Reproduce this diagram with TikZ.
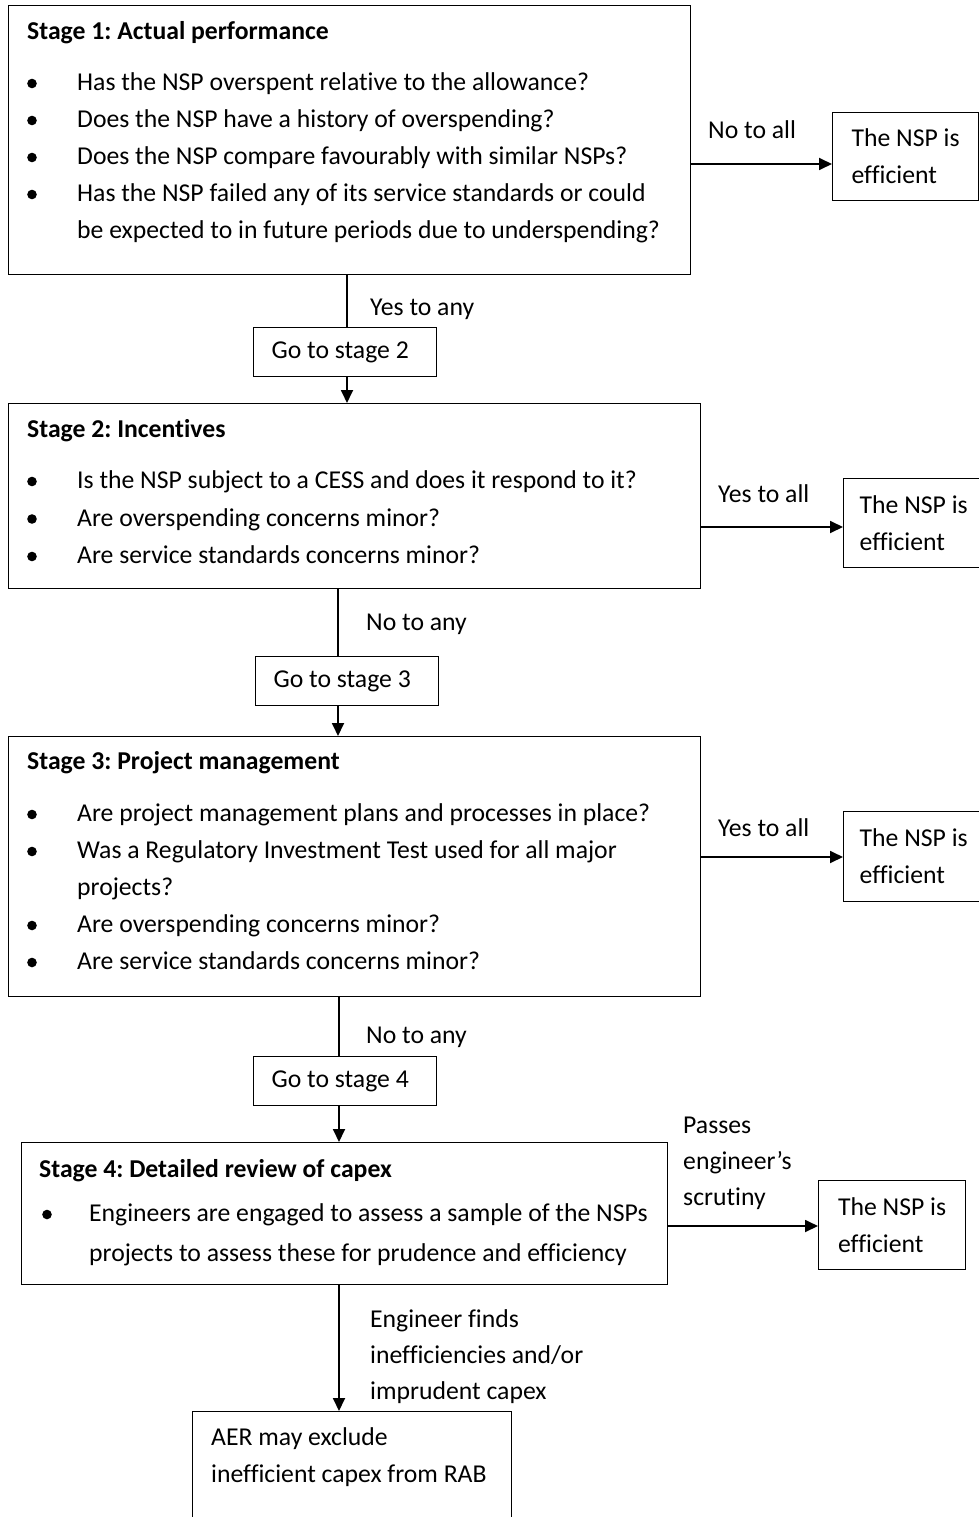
\documentclass[tikz,border=0pt]{standalone}
\usepackage{fontspec}
\setmainfont{Carlito}[Ligatures={NoCommon,NoContextual}]
\usetikzlibrary{arrows.meta}
\frenchspacing
\tikzset{box/.style={draw, line width=1.3pt, inner sep=0pt, anchor=north west}}
\tikzset{txt/.style={anchor=base west, inner sep=0pt}}
\tikzset{gobox/.style={box, minimum width=183pt, minimum height=49pt,
    text width=147pt, inner xsep=18pt, align=flush left}}
\tikzset{endbox/.style={box, align=flush left, inner xsep=16pt}}
\tikzset{line/.style={line width=1.8pt}}
\tikzset{arr/.style={line width=1.8pt, -{Triangle[length=13pt,width=12pt]}}}
\newcommand{\bul}[2]{\fill (#1,{#2}) circle (4.8pt);}

\begin{document}
\begin{tikzpicture}[x=1pt, y=-1pt, font=\fontsize{25.7}{37}\selectfont\frenchspacing]
                \useasboundingbox (0,0) rectangle (979,1517);
                \clip (0,0) rectangle (979,1517);

                % Stage 1
                \node[box, minimum width=682pt, minimum height=269pt] (s1) at (8,5) {};
                \node[txt] (s1t) at (27,40) {\textbf{Stage 1: Actual performance}};
                \foreach \t [count=\i] in {{Has the NSP overspent relative to the allowance?},
                    {Does the NSP have a history of overspending?},
                    {Does the NSP compare favourably with similar NSPs?},
                    {Has the NSP failed any of its service standards or could},
                    {be expected to in future periods due to underspending?}}
                    {\node[txt] (s1l\i) at (77,{90.5+37*(\i-1)}) {\t};}
                \foreach \i in {1,...,4} {\bul{32}{83.5+37*(\i-1)}}

                % Stage 2
                \node[box, minimum width=692pt, minimum height=185pt] (s2) at (8,403) {};
                \node[txt] (s2t) at (27,437.5) {\textbf{Stage 2: Incentives}};
                \foreach \t [count=\i] in {{Is the NSP subject to a CESS and does it respond to it?},
                    {Are overspending concerns minor?},
                    {Are service standards concerns minor?}}
                    {\node[txt] (s2l\i) at (77,{488.5+37.5*(\i-1)}) {\t};}
                \foreach \i in {1,...,3} {\bul{32}{481.5+37.5*(\i-1)}}

                % Stage 3
                \node[box, minimum width=692pt, minimum height=260pt] (s3) at (8,736) {};
                \node[txt] (s3t) at (27,769.5) {\textbf{Stage 3: Project management}};
                \foreach \t [count=\i] in {{Are project management plans and processes in place?},
                    {Was a Regulatory Investment Test used for all major},
                    {projects?},
                    {Are overspending concerns minor?},
                    {Are service standards concerns minor?}}
                    {\node[txt] (s3l\i) at (77,{821.5+37*(\i-1)}) {\t};}
                \foreach \i in {1,2,4,5} {\bul{32}{814.5+37*(\i-1)}}

                % Stage 4
                \node[box, minimum width=646pt, minimum height=142pt] (s4) at (21,1142) {};
                \node[txt] (s4t) at (39,1177.5) {\textbf{Stage 4: Detailed review of capex}};
                \node[txt] (s4l1) at (89,1221.5) {Engineers are engaged to assess a sample of the NSPs};
                \node[txt] (s4l2) at (89,1261.5) {projects to assess these for prudence and efficiency};
                \bul{47}{1214.5}

                % Go to boxes
                \node[gobox] (go2) at (253,327) {Go to stage 2};
                \node[gobox] (go3) at (255,656) {Go to stage 3};
                \node[gobox] (go4) at (253,1056) {Go to stage 4};

                % Efficient boxes
                \node[endbox, minimum width=146pt, minimum height=88pt] (e1) at (832,112) {The NSP is\\efficient};
                \node[endbox, minimum width=135pt, minimum height=89pt] (e2) at (843,478) {The NSP is\\efficient};
                \node[endbox, minimum width=135pt, minimum height=90pt] (e3) at (843,811) {The NSP is\\efficient};
                \node[endbox, minimum width=147pt, minimum height=89pt] (e4) at (818,1180) {The NSP is\\efficient};

                % Final box
                \node[box, minimum width=319pt, minimum height=140pt] (fin) at (192,1411) {};
                \node[txt] (fin1) at (211,1445.5) {AER may exclude};
                \node[txt] (fin2) at (211,1482.5) {inefficient capex from RAB};

                % Down connectors
                \coordinate (v1) at (347,0);
                \coordinate (v2) at (338,0);
                \coordinate (v3) at (339,0);
                \draw[line] (v1 |- s1.south) -- (v1 |- go2.north);
                \draw[arr] (v1 |- go2.south) -- (v1 |- s2.north);
                \draw[line] (v2 |- s2.south) -- (v2 |- go3.north);
                \draw[arr] (v2 |- go3.south) -- (v2 |- s3.north);
                \draw[line] (v3 |- s3.south) -- (v3 |- go4.north);
                \draw[arr] (v3 |- go4.south) -- (v3 |- s4.north);
                \draw[arr] (v3 |- s4.south) -- (v3 |- fin.north);

                % Side connectors
                \coordinate (h1) at (0,164);
                \coordinate (h2) at (0,527);
                \coordinate (h3) at (0,857);
                \coordinate (h4) at (0,1226);
                \draw[arr] (s1.east |- h1) -- (e1.west |- h1);
                \draw[arr] (s2.east |- h2) -- (e2.west |- h2);
                \draw[arr] (s3.east |- h3) -- (e3.west |- h3);
                \draw[arr] (s4.east |- h4) -- (e4.west |- h4);

                % Labels
                \node[txt] (yes1) at (370,315.5) {Yes to any};
                \node[txt] (no2) at (366,630.5) {No to any};
                \node[txt] (no3) at (366,1043.5) {No to any};
                \node[txt] (no1) at (708,138.5) {No to all};
                \node[txt] (yes2) at (718,502.5) {Yes to all};
                \node[txt] (yes3) at (718,836.5) {Yes to all};
                \node[txt] (pass1) at (683,1133.5) {Passes};
                \node[txt] (pass2) at (683,1169.5) {engineer’s};
                \node[txt] (pass3) at (683,1205.5) {scrutiny};
                \node[txt] (find1) at (370,1327.5) {Engineer finds};
                \node[txt] (find2) at (370,1363.5) {inefficiencies and/or};
                \node[txt] (find3) at (370,1399.5) {imprudent capex};
\end{tikzpicture}
\end{document}
